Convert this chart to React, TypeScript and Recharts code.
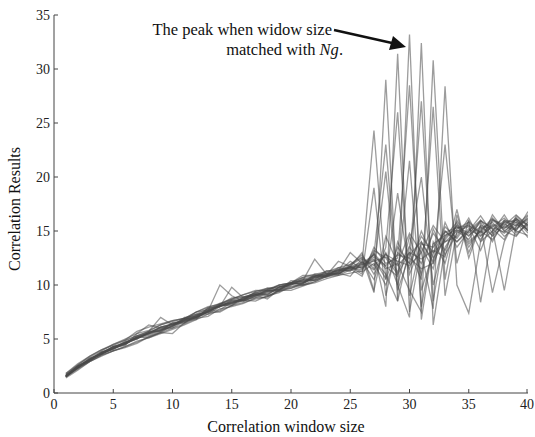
import React from 'react';
import { LineChart, Line, XAxis, YAxis } from 'recharts';

const windowSizes = [1,2,3,4,5,6,7,8,9,10,11,12,13,14,15,16,17,18,19,20,21,22,23,24,25,26,27,28,29,30,31,32,33,34,35,36,37,38,39,40];
const xTicks = [0,5,10,15,20,25,30,35,40];
const yTicks = [0,5,10,15,20,25,30,35];

const peak27a = [1.5,2.3,3.0,3.6,4.1,4.5,5.2,5.6,5.8,6.2,6.8,7.0,7.5,8.1,8.3,8.8,9.1,9.2,9.7,10.1,10.2,10.7,10.8,11.3,11.6, 12.0,24.3,10.5,13.5,12.0,14.5,13.0,15.0,14.0,15.2,14.5,15.5,14.8,15.6,15.2];
const peak27b = [1.8,2.7,3.4,4.0,4.5,4.9,5.3,5.7,6.3,6.7,6.9,7.5,8.0,8.2,8.8,8.9,9.2,9.7,9.8,10.2,10.7,10.8,11.3,11.4,11.7, 11.0,19.0,9.0,14.0,11.5,15.0,12.5,14.2,15.5,13.8,15.0,14.2,15.8,14.6,15.8];
const peak28a = [1.6,2.4,3.1,3.8,4.2,4.4,5.5,6.3,6.0,6.1,6.9,7.3,7.4,8.2,8.6,8.9,9.2,9.1,9.8,10.2,10.5,10.8,11.1,11.0,11.8, 12.5,9.3,29.0,8.5,13.5,12.0,14.8,13.2,15.6,14.5,15.8,14.0,16.0,15.0,14.6];
const peak28b = [1.5,2.5,3.0,3.7,4.3,4.6,5.1,5.3,5.7,6.5,6.7,7.0,7.8,8.1,8.2,8.7,9.3,9.5,9.4,10.0,10.6,10.4,10.9,11.4,11.3, 11.8,12.8,23.0,10.0,14.5,11.0,15.2,12.8,14.8,15.6,14.2,16.0,15.2,16.2,15.0];
const peak28c = [1.7,2.6,3.3,3.9,4.5,5.0,5.5,5.8,6.3,6.6,6.9,7.5,7.9,8.3,8.7,9.1,9.4,9.6,10.0,10.2,10.7,11.0,11.2,11.6,11.9, 12.6,11.5,20.5,9.5,12.8,14.0,12.2,15.4,14.3,15.9,14.8,15.6,15.3,16.0,15.1];
const peak29a = [1.6,2.3,3.2,3.6,4.1,4.8,5.3,5.7,7.0,6.3,6.5,7.2,7.6,10.0,9.0,8.5,9.0,9.6,9.9,9.8,10.1,10.9,10.7,11.2,12.2, 11.5,13.0,8.0,31.4,7.5,13.5,11.5,15.8,13.5,15.0,16.0,14.5,15.5,16.5,15.5];
const peak29b = [1.5,2.2,2.9,3.4,3.9,4.2,4.6,5.2,5.6,5.5,6.5,7.0,7.5,7.5,8.1,8.6,8.5,9.0,9.3,9.9,10.0,10.3,10.8,11.1,10.8, 12.2,10.5,13.5,26.0,9.0,14.0,12.0,14.5,15.8,13.5,15.2,15.8,14.5,15.4,16.0];
const peak29c = [1.5,2.4,3.1,3.7,4.1,4.6,5.0,5.6,5.9,6.4,6.8,7.1,7.6,8.0,8.3,8.7,9.1,9.4,9.6,10.1,10.2,10.6,11.0,11.1,11.5, 11.9,12.4,10.6,18.5,11.0,13.8,13.5,14.9,15.3,15.5,14.9,16.1,15.4,15.1,16.4];
const peak30a = [1.5,2.4,3.1,3.8,4.0,4.7,5.0,5.6,6.1,6.4,6.6,7.1,7.3,8.0,9.8,8.8,9.1,9.0,9.5,10.1,10.4,12.4,11.0,11.1,11.7, 11.6,12.3,11.0,8.5,33.2,6.8,14.0,12.0,16.0,14.0,15.0,16.2,15.0,15.8,15.3];
const peak30b = [1.6,2.5,3.0,3.7,4.2,4.6,5.2,5.1,5.6,6.3,6.9,6.9,7.6,8.3,8.3,8.6,9.4,9.7,9.6,9.7,10.2,10.7,10.8,11.6,11.5, 10.8,13.5,12.0,12.5,28.5,9.5,13.0,14.0,14.5,16.2,14.0,15.0,16.5,14.8,15.6];
const peak30c = [1.5,2.3,2.9,3.5,3.9,4.3,4.8,5.1,5.5,5.9,6.3,6.8,7.3,7.6,8.1,8.4,8.7,8.9,9.4,9.7,10.0,10.2,10.6,10.9,11.1, 11.3,12.9,11.7,10.8,21.5,8.0,13.8,14.6,15.1,14.6,15.4,14.6,15.9,15.5,16.1];
const peak31a = [1.6,2.3,3.1,3.6,4.3,4.5,5.1,5.5,5.9,6.0,6.7,7.5,7.7,8.0,8.5,8.7,8.9,9.4,10.0,10.2,10.0,10.5,11.3,11.2,11.9, 12.8,11.0,13.0,10.0,7.0,32.4,6.3,13.5,15.2,15.8,14.6,15.4,16.2,15.0,16.8];
const peak31b = [1.8,2.6,3.4,4.0,4.4,4.9,5.7,6.1,6.4,6.7,6.9,7.3,7.8,8.2,8.7,9.1,9.5,9.5,10.0,10.2,10.9,10.9,10.9,12.2,11.7, 11.2,12.0,10.0,13.0,12.0,27.0,8.5,15.0,14.0,15.0,16.4,14.8,15.8,16.0,14.8];
const peak31c = [1.6,2.4,3.0,3.7,4.3,4.7,5.1,5.5,6.1,6.3,6.8,7.2,7.5,8.1,8.4,8.6,9.1,9.5,9.6,10.2,10.3,10.8,10.9,11.2,11.7, 12.1,11.4,12.9,11.2,13.6,20.0,10.0,14.4,15.4,14.8,15.9,15.3,14.9,16.1,15.6];
const peak32a = [1.5,2.4,3.0,3.7,4.1,4.7,5.1,5.5,5.8,6.2,7.0,7.1,7.6,8.1,8.1,8.9,9.0,9.5,9.5,10.4,10.3,10.8,11.1,11.3,13.0, 12.0,12.8,11.5,12.0,9.5,7.5,30.8,10.5,16.5,13.0,15.5,15.2,14.2,16.4,15.4];
const peak32b = [1.6,2.5,3.1,3.7,4.2,4.6,5.0,5.6,6.0,6.3,6.7,6.8,7.9,8.0,8.6,8.6,8.8,9.3,9.8,10.0,10.5,10.4,10.9,11.0,11.6, 11.4,13.2,12.5,11.0,13.0,10.5,26.5,9.0,15.0,15.4,13.2,16.0,15.6,15.2,16.2];
const peak33a = [1.6,2.4,3.2,3.6,4.3,4.5,5.2,5.4,5.8,6.5,6.5,7.1,7.6,7.7,8.4,8.7,9.1,8.7,9.6,10.1,10.1,10.7,11.0,11.4,11.3, 12.4,11.8,12.8,12.2,11.8,13.0,7.8,28.4,10.0,7.4,14.0,16.5,15.0,14.5,15.9];
const peak33b = [1.4,2.1,2.9,3.5,3.9,4.3,4.7,5.2,5.6,6.0,6.4,6.9,7.1,7.8,8.0,8.3,8.8,8.9,9.5,9.5,9.9,10.3,10.8,10.9,11.4, 11.7,12.6,11.8,12.8,12.5,11.5,12.0,23.0,12.0,16.0,8.4,15.0,16.0,15.8,14.4];
const peak34 = [1.7,2.4,3.0,3.7,4.2,4.7,5.1,5.7,5.7,6.2,6.7,7.2,7.7,8.0,8.5,8.5,9.0,9.4,9.5,10.2,10.4,10.5,10.8,11.5,11.5, 11.9,12.2,12.6,11.8,13.0,12.4,13.2,12.6,17.0,12.5,15.6,9.3,14.0,16.2,15.0];
const peak26 = [1.6,2.5,3.1,3.6,4.1,4.6,5.3,5.5,6.1,6.4,6.6,7.0,7.5,8.1,8.4,8.8,9.3,9.1,9.8,10.1,10.2,11.0,10.9,11.0,11.7, 13.0,9.5,14.5,12.0,14.8,13.0,15.5,14.0,15.0,14.2,16.0,15.2,9.5,15.5,16.5];

const seriesList = [peak26, peak27a, peak27b, peak28a, peak28b, peak28c, peak29a, peak29b, peak29c, peak30a, peak30b, peak30c, peak31a, peak31b, peak31c, peak32a, peak32b, peak33a, peak33b, peak34];
const seriesKeys = seriesList.map((_, i) => 's' + i);

const data = windowSizes.map((w, j) => {
  const row: Record<string, number> = { x: w };
  seriesList.forEach((s, i) => { row[seriesKeys[i]] = s[j]; });
  return row;
});

const FONT = 'Liberation Serif, DejaVu Serif, Times New Roman, serif';
const FRAME = '#444';

const BottomTick = (props: any) => {
  const { x, y, payload } = props;
  return (
    <g>
      <line x1={x} y1={y} x2={x} y2={y - 4} stroke={FRAME} strokeWidth={1} />
      <text x={x} y={y + 16} textAnchor="middle" style={{ fontFamily: FONT, fontSize: 14 }} fill="#222">{payload.value}</text>
    </g>
  );
};
const LeftTick = (props: any) => {
  const { x, y, payload } = props;
  return (
    <g>
      <line x1={x} y1={y} x2={x + 4} y2={y} stroke={FRAME} strokeWidth={1} />
      <text x={x - 4} y={y + 5} textAnchor="end" style={{ fontFamily: FONT, fontSize: 14 }} fill="#222">{payload.value}</text>
    </g>
  );
};
const TopTick = (props: any) => {
  const { x, y } = props;
  return <line x1={x} y1={y} x2={x} y2={y + 4} stroke={FRAME} strokeWidth={1} />;
};
const RightTick = (props: any) => {
  const { x, y } = props;
  return <line x1={x} y1={y} x2={x - 4} y2={y} stroke={FRAME} strokeWidth={1} />;
};

export default function App() {
  return (
    <div style={{ position: 'absolute', left: 0, top: 0, width: 535, height: 437, background: '#fff', fontFamily: FONT }}>
      <LineChart width={535} height={437} data={data} margin={{ top: 15, right: 7, bottom: 0, left: 0 }}>
        <XAxis dataKey="x" type="number" domain={[0, 40]} ticks={xTicks} height={44}
          tickSize={0} tickMargin={0} tickLine={false} tick={<BottomTick />}
          axisLine={{ stroke: FRAME }} allowDataOverflow />
        <XAxis xAxisId="top" orientation="top" type="number" domain={[0, 40]} ticks={xTicks} height={0}
          tickSize={0} tickMargin={0} tickLine={false} tick={<TopTick />}
          axisLine={{ stroke: FRAME }} />
        <YAxis type="number" domain={[0, 35]} ticks={yTicks} width={54}
          tickSize={0} tickMargin={0} tickLine={false} tick={<LeftTick />}
          axisLine={{ stroke: FRAME }} />
        <YAxis yAxisId="right" orientation="right" type="number" domain={[0, 35]} ticks={yTicks} width={0}
          tickSize={0} tickMargin={0} tickLine={false} tick={<RightTick />}
          axisLine={{ stroke: FRAME }} />
        {seriesKeys.map((k) => (
          <Line key={k} dataKey={k} type="linear" stroke="#4a4a4a" strokeWidth={1.3} strokeOpacity={0.55}
            dot={false} activeDot={false} isAnimationActive={false} />
        ))}
      </LineChart>
      <svg width={535} height={437} style={{ position: 'absolute', left: 0, top: 0, pointerEvents: 'none' }}>
        <text x={332} y={35} textAnchor="end" style={{ fontFamily: FONT, fontSize: 16.5 }} fill="#111">The peak when widow size</text>
        <text x={343} y={55} textAnchor="end" style={{ fontFamily: FONT, fontSize: 16.5 }} fill="#111">matched with <tspan fontStyle="italic">Ng</tspan>.</text>
        <line x1={334} y1={30} x2={392} y2={43} stroke="#111" strokeWidth={2.5} />
        <polygon points="406,47 389,50 393,36" fill="#111" />
        <text x={286} y={432} textAnchor="middle" style={{ fontFamily: FONT, fontSize: 16 }} fill="#111">Correlation window size</text>
        <text transform="translate(20,209) rotate(-90)" textAnchor="middle" style={{ fontFamily: FONT, fontSize: 16 }} fill="#111">Correlation Results</text>
      </svg>
    </div>
  );
}
